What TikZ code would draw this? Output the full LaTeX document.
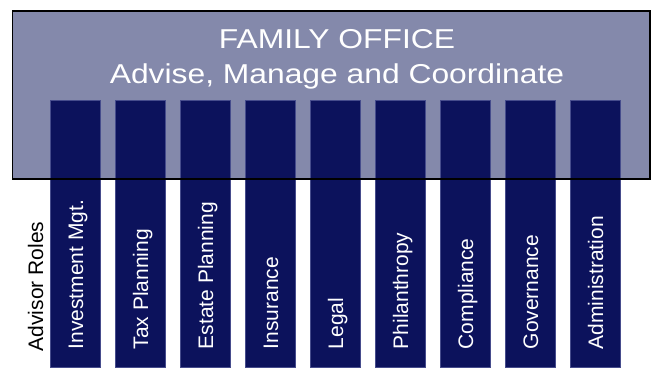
\documentclass[tikz,border=0pt]{standalone}
\usepackage{fontspec}
\setmainfont{Liberation Sans}
\definecolor{officefill}{RGB}{132,137,171}
\definecolor{rolefill}{RGB}{12,18,92}
\definecolor{roleedge}{RGB}{70,76,140}
\begin{document}
\begin{tikzpicture}[x=1bp,y=-1bp,
  office/.style={fill=officefill},
  officeframe/.style={draw=black,line width=1.2bp},
  rolebar/.style={fill=rolefill,draw=roleedge,line width=0.6bp},
  rolelabel/.style={rotate=90,anchor=base west,inner sep=0pt,text=white,
    font=\fontsize{21bp}{21bp}\selectfont},
  titletext/.style={text=white,inner sep=0pt,anchor=base,
    font=\fontsize{27.3bp}{27.3bp}\selectfont}]
\useasboundingbox (0,0) rectangle (651,368);
% family office panel
\fill[office] (12.5,11) rectangle (650,179);
% advisor role bars
\foreach \i/\name/\txt in {0/inv/Investment Mgt.,1/tax/Tax Planning,2/estate/Estate Planning,
    3/ins/Insurance,4/legal/Legal,5/phil/Philanthropy,6/comp/Compliance,
    7/gov/Governance,8/admin/Administration}{
  \pgfmathsetmacro{\xl}{50+65*\i}
  \path[rolebar] (\xl,100) rectangle ++(50,267.5);
  \node[rolelabel] (\name) at (\xl+25+8,349.5) {\txt};
}
% panel outline on top of the bars
\draw[officeframe] (12.5,11) rectangle (650,179);
% panel titles
\node[titletext] (title) at (337,48.3) {\scalebox{1.165}[1]{FAMILY OFFICE}};
\node[titletext] (subtitle) at (337,83.3) {\scalebox{1.165}[1]{Advise, Manage and Coordinate}};
% row caption
\node[rolelabel,text=black] (roles) at (43,351.5) {Advisor Roles};
\end{tikzpicture}
\end{document}
